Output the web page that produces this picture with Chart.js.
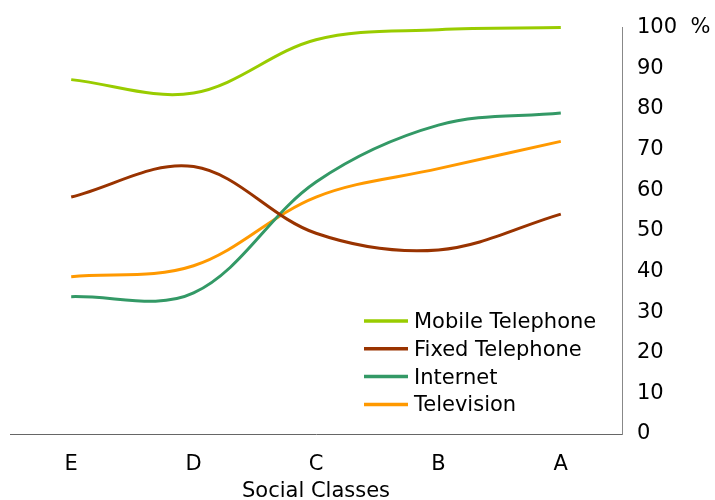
<!DOCTYPE html>
<html>
<head>
<meta charset="utf-8">
<script src="https://cdn.jsdelivr.net/npm/chart.js@4"></script>
<style>
  html, body { margin: 0; padding: 0; background: #fff; }
  #wrap { width: 715px; height: 500px; }
</style>
</head>
<body>
<div id="wrap"><canvas id="chart" width="715" height="500"></canvas></div>
<script>
// values, % of households per social class
const classes = ['E', 'D', 'C', 'B', 'A'];
const mobilePhone = [87.2, 83.9, 97, 99.5, 100];
const fixedPhone = [58.3, 65.8, 49.4, 45.3, 54.1];
const internet = [33.8, 34.7, 62, 76, 79];
const television = [38.7, 41.4, 58.3, 65.3, 72];
const seriesNames = ['Mobile Telephone', 'Fixed Telephone', 'Internet', 'Television'];
const seriesColors = ['#99cc00', '#993300', '#339966', '#ff9900'];
const yTicks = [0, 10, 20, 30, 40, 50, 60, 70, 80, 90, 100];

const font = "'DejaVu Sans', Verdana, sans-serif";
const fontSize = 21;

// legend sits inside the plot, lower right
const innerLegend = {
  id: 'innerLegend',
  afterDatasetsDraw(chart) {
    const ctx = chart.ctx;
    const area = chart.chartArea;
    ctx.save();
    ctx.font = fontSize + 'px ' + font;
    ctx.textBaseline = 'middle';
    ctx.textAlign = 'left';
    chart.data.datasets.forEach((ds, i) => {
      const y = area.bottom - 113 + i * 27.8;
      ctx.strokeStyle = ds.borderColor;
      ctx.lineWidth = 3.5;
      ctx.beginPath();
      ctx.moveTo(area.right - 258, y);
      ctx.lineTo(area.right - 214, y);
      ctx.stroke();
      ctx.fillStyle = '#000';
      ctx.fillText(ds.label, area.right - 208, y + 1.5);
    });
    ctx.restore();
  }
};

const datasets = [mobilePhone, fixedPhone, internet, television].map((vals, i) => ({
  label: seriesNames[i],
  data: vals,
  borderColor: seriesColors[i],
  backgroundColor: seriesColors[i],
  borderWidth: 3,
  pointRadius: 0,
  tension: 0.35,
  fill: false,
  clip: false
}));

new Chart(document.getElementById('chart'), {
  type: 'line',
  data: { labels: classes, datasets: datasets },
  options: {
    responsive: false,
    animation: false,
    layout: { padding: { top: 24, left: 10, right: 0, bottom: 0 } },
    plugins: {
      legend: { display: false },
      tooltip: { enabled: false }
    },
    scales: {
      x: {
        position: 'bottom',
        offset: true,
        grid: { display: false, drawTicks: false },
        border: { display: true, color: '#666', width: 1 },
        ticks: { color: '#000', font: { family: font, size: fontSize }, padding: 18, maxRotation: 0 },
        title: {
          display: true,
          text: 'Social Classes',
          color: '#000',
          font: { family: font, size: fontSize, lineHeight: 1 },
          padding: { top: 0, bottom: -2 }
        },
        afterFit(scale) { scale.height = 66; }
      },
      y: {
        position: 'right',
        min: 0,
        max: 100,
        afterBuildTicks(scale) { scale.ticks = yTicks.map(v => ({ value: v })); },
        grid: { display: false, drawTicks: false },
        border: { display: true, color: '#888', width: 1 },
        ticks: {
          color: '#000',
          font: { family: font, size: fontSize },
          padding: 15,
          callback: v => (v === 100 ? '100  %' : v)
        },
        afterFit(scale) { scale.width = 93; }
      }
    }
  },
  plugins: [innerLegend]
});
</script>
</body>
</html>
